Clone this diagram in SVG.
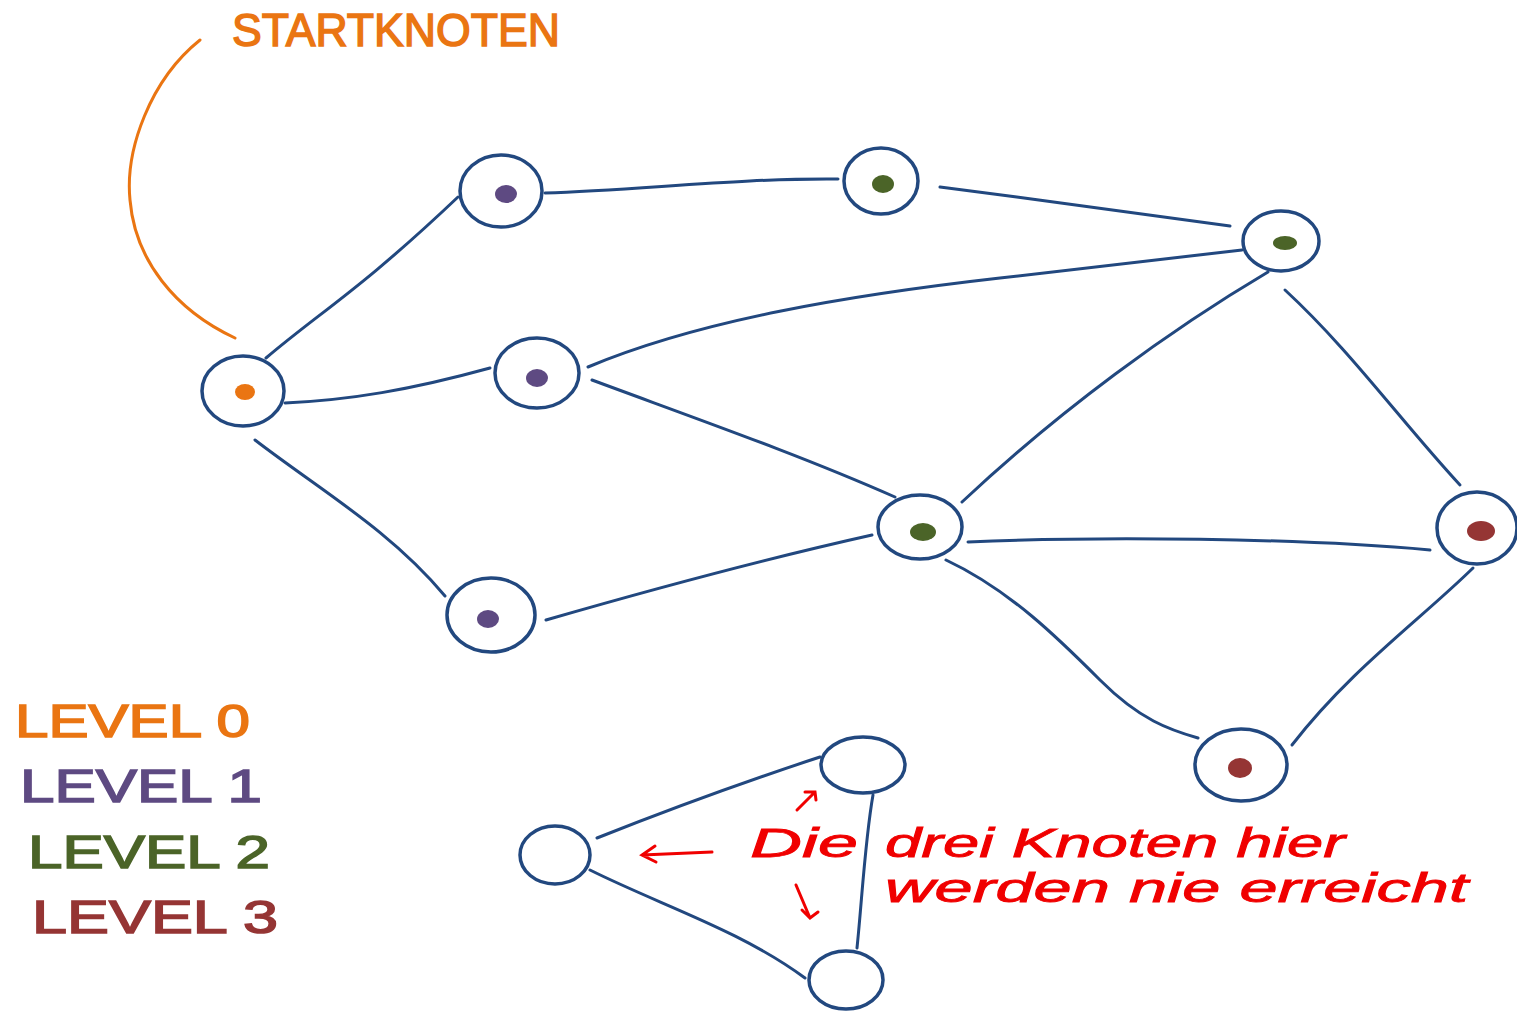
<svg xmlns="http://www.w3.org/2000/svg" width="1517" height="1011" viewBox="0 0 1517 1011">
<defs>
<style>
.n{fill:none;stroke:#22487f;stroke-width:3.5}
.e{fill:none;stroke:#22487f;stroke-width:3;stroke-linecap:round}
.d0{fill:#ea7512}.d1{fill:#5e4a82}.d2{fill:#4b6428}.d3{fill:#953534}
.lv{font-family:"Liberation Sans",Arial,sans-serif;font-size:46px;stroke-width:1.5}
.rt{font-family:"Liberation Sans",Arial,sans-serif;font-size:40px;fill:#f00000;stroke:#f00000;stroke-width:0.8;font-style:italic}
.ra{fill:none;stroke:#f00000;stroke-width:3;stroke-linecap:round}
</style>
</defs>
<rect width="1517" height="1011" fill="#fff"/>
<g id="connectors">
<path class="e" d="M266,358 C320,312 360,290 458,197"/>
<path class="e" d="M285,403 C350,400 410,390 490,368"/>
<path class="e" d="M255,440 C320,490 390,530 445,596"/>
<path class="e" d="M545,193 C640,190 740,178 838,179"/>
<path class="e" d="M940,187 C1040,200 1150,215 1230,226"/>
<path class="e" d="M588,367 C700,320 850,295 1000,278 S1200,255 1242,250"/>
<path class="e" d="M592,380 C700,420 800,455 895,497"/>
<path class="e" d="M546,620 C650,590 760,560 872,535"/>
<path class="e" d="M1268,272 C1170,330 1060,410 962,502"/>
<path class="e" d="M1285,290 C1350,350 1400,420 1460,485"/>
<path class="e" d="M968,542 C1100,536 1300,538 1430,550"/>
<path class="e" d="M946,560 C1010,590 1060,640 1100,680 S1170,730 1198,738"/>
<path class="e" d="M1473,568 C1420,620 1350,670 1292,745"/>
<path class="e" d="M597,838 C680,805 750,780 820,757"/>
<path class="e" d="M590,870 C660,905 740,930 805,978"/>
<path class="e" d="M873,795 C865,840 862,900 857,948"/>
<path d="M200,40 C150,80 125,150 130,200 C135,260 175,310 235,338" fill="none" stroke="#ea7512" stroke-width="3" stroke-linecap="round"/>
<path class="ra" d="M712,852 L642,855 M655,846 L642,855 L656,862"/>
<path class="ra" d="M797,810 L815,792 M805,792 L815,792 L816,800"/>
<path class="ra" d="M796,885 L810,918 M802,910 L810,918 L818,912"/>
</g>
<g id="start"><ellipse class="n" cx="243" cy="391" rx="41" ry="35"/><ellipse class="d0" cx="245" cy="392" rx="10" ry="8"/></g>
<g id="l1a"><ellipse class="n" cx="501" cy="191" rx="41" ry="36"/><ellipse class="d1" cx="506" cy="194" rx="11" ry="9"/></g>
<g id="l1b"><ellipse class="n" cx="537" cy="373" rx="42" ry="35"/><ellipse class="d1" cx="537" cy="378" rx="11" ry="9"/></g>
<g id="l1c"><ellipse class="n" cx="491" cy="615" rx="44" ry="37"/><ellipse class="d1" cx="488" cy="619" rx="11" ry="9"/></g>
<g id="l2a"><ellipse class="n" cx="881" cy="181" rx="37" ry="33"/><ellipse class="d2" cx="883" cy="184" rx="11" ry="9"/></g>
<g id="l2b"><ellipse class="n" cx="1281" cy="241" rx="38" ry="30"/><ellipse class="d2" cx="1285" cy="243" rx="12" ry="7"/></g>
<g id="l2c"><ellipse class="n" cx="920" cy="527" rx="42" ry="32"/><ellipse class="d2" cx="923" cy="532" rx="13" ry="9"/></g>
<g id="l3a"><ellipse class="n" cx="1477" cy="528" rx="40" ry="36"/><ellipse class="d3" cx="1481" cy="531" rx="14" ry="10"/></g>
<g id="l3b"><ellipse class="n" cx="1241" cy="765" rx="46" ry="36"/><ellipse class="d3" cx="1240" cy="768" rx="12" ry="10"/></g>
<g id="iso1"><ellipse class="n" cx="555" cy="855" rx="35" ry="29"/></g>
<g id="iso2"><ellipse class="n" cx="863" cy="765" rx="42" ry="28"/></g>
<g id="iso3"><ellipse class="n" cx="846" cy="980" rx="37" ry="29"/></g>
<g id="labels">
<text x="232" y="46" class="lv" fill="#ea7512" stroke="#ea7512" font-size="41" textLength="328" lengthAdjust="spacingAndGlyphs">STARTKNOTEN</text>
<text x="15" y="737" class="lv" fill="#ea7512" stroke="#ea7512" textLength="235" lengthAdjust="spacingAndGlyphs">LEVEL 0</text>
<text x="20" y="802" class="lv" fill="#5e4a82" stroke="#5e4a82" textLength="242" lengthAdjust="spacingAndGlyphs">LEVEL 1</text>
<text x="28" y="868" class="lv" fill="#4b6428" stroke="#4b6428" textLength="242" lengthAdjust="spacingAndGlyphs">LEVEL 2</text>
<text x="32" y="933" class="lv" fill="#953534" stroke="#953534" textLength="246" lengthAdjust="spacingAndGlyphs">LEVEL 3</text>
<text x="750" y="857" class="rt" textLength="108" lengthAdjust="spacingAndGlyphs">Die</text>
<text x="885" y="857" class="rt" textLength="460" lengthAdjust="spacingAndGlyphs">drei Knoten hier</text>
<text x="885" y="902" class="rt" textLength="583" lengthAdjust="spacingAndGlyphs">werden nie erreicht</text>
</g>
</svg>
